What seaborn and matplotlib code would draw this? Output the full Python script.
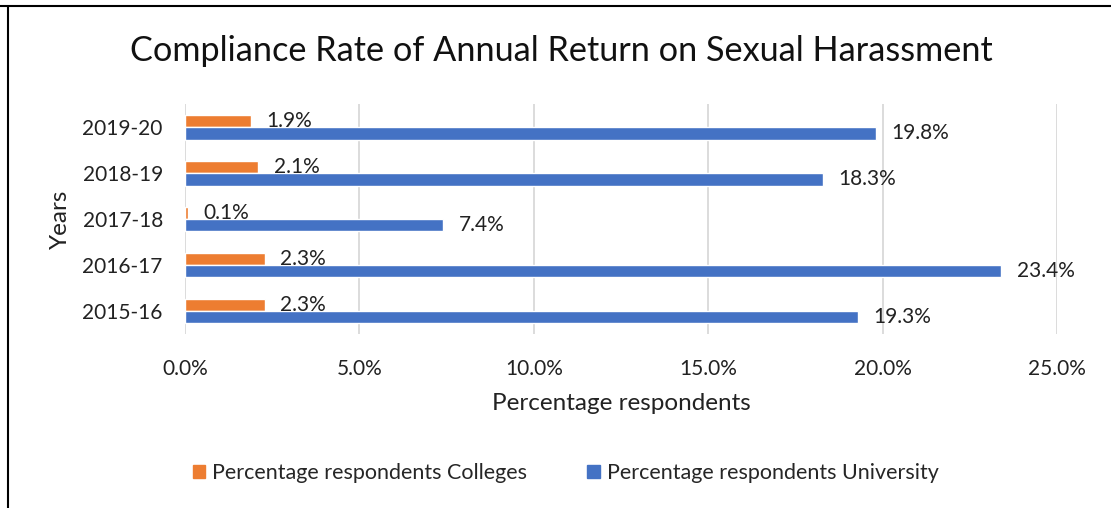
import matplotlib.pyplot as plt
import matplotlib.patches as mpatches
from matplotlib.lines import Line2D
from matplotlib.ticker import FuncFormatter
import pandas as pd
import seaborn as sns

years = ["2019-20", "2018-19", "2017-18", "2016-17", "2015-16"]
colleges = [1.9, 2.1, 0.1, 2.3, 2.3]
university = [19.8, 18.3, 7.4, 23.4, 19.3]
series = ["Percentage respondents Colleges", "Percentage respondents University"]
colors = {series[0]: "#ED7D31", series[1]: "#4472C4"}
xticks = [0, 5, 10, 15, 20, 25]

df = pd.DataFrame({
    "Years": years * 2,
    "value": colleges + university,
    "series": [series[0]] * len(years) + [series[1]] * len(years),
})

sns.set_style("white")
plt.rcParams["font.family"] = ["Lato", "DejaVu Sans"]

fig = plt.figure(figsize=(11.11, 5.08), dpi=100)
ax = fig.add_axes([0.1665, 0.3425, 0.785, 0.4525])

sns.barplot(data=df, x="value", y="Years", hue="series", order=years,
            hue_order=series, palette=colors, orient="h", width=0.54,
            saturation=1.0, ax=ax, legend=False)

for cont in ax.containers:
    ax.bar_label(cont, fmt="%.1f%%", padding=11, fontsize=15, color="#222222")

ax.set_xlim(0, 25)
ax.set_xticks(xticks)
ax.xaxis.set_major_formatter(FuncFormatter(lambda v, p: f"{v:.1f}%"))
ax.grid(axis="x", color="#d9d9d9", linewidth=1.3)
ax.set_axisbelow(True)
for s in ax.spines.values():
    s.set_visible(False)
ax.tick_params(axis="both", length=0, labelsize=15, labelcolor="#222222")
ax.tick_params(axis="x", pad=18)
ax.tick_params(axis="y", pad=16)
ax.set_xlabel("Percentage respondents", fontsize=17.5, labelpad=10, color="#222222")
ax.set_ylabel("Years", fontsize=17.5, labelpad=8, color="#222222")

fig.text(0.505, 0.9, "Compliance Rate of Annual Return on Sexual Harassment",
         ha="center", va="center", fontsize=24.7, color="#111111")

handles = [mpatches.Patch(color=colors[s], label=s) for s in series]
fig.legend(handles=handles, loc="center", bbox_to_anchor=(0.509, 0.069), ncol=2,
           frameon=False, fontsize=15.5, handlelength=0.6, handleheight=0.6,
           handletextpad=0.3, columnspacing=2.8)

fig.add_artist(Line2D([0, 1], [0.988, 0.988], color="black", linewidth=1.5))
fig.add_artist(Line2D([0.0072, 0.0072], [0, 0.988], color="black", linewidth=1.5))

fig.savefig("out.png", dpi=100)
